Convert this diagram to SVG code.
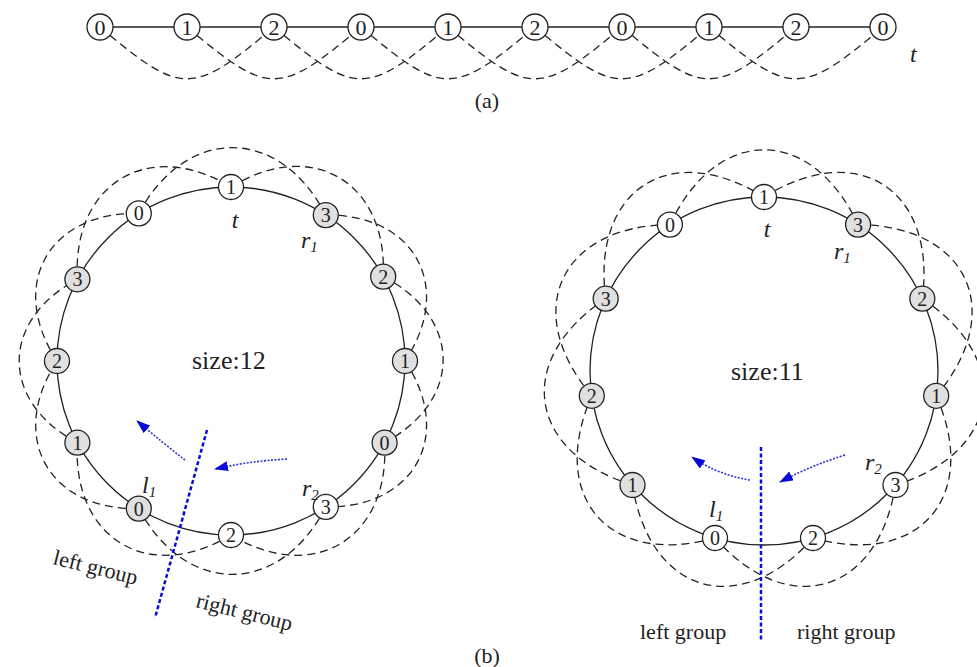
<svg xmlns="http://www.w3.org/2000/svg" width="977" height="667" viewBox="0 0 977 667">
<style>
.solid{fill:none;stroke:#222;stroke-width:1.3}
.dash{fill:none;stroke:#222;stroke-width:1.3;stroke-dasharray:8 5}
.node circle{stroke:#222;stroke-width:1.3}
.w circle{fill:#fff}
.g circle{fill:#e0e0e0}
.node text{font-family:"Liberation Serif","Times New Roman",serif;font-size:20px;text-anchor:middle;fill:#222}
.big text{font-size:22px}
.lbl{font-family:"Liberation Serif","Times New Roman",serif;fill:#222}
.it{font-style:italic;font-size:24px}
.sz{font-size:26px}
.grp{font-size:22px}
.cap{font-size:22px;text-anchor:middle}
.bl{fill:none;stroke:#0a0ad8;stroke-width:2.5;stroke-dasharray:4 2.5}
.arr{fill:none;stroke:#3030d8;stroke-width:1.6;stroke-dasharray:2 1.5}
</style>
<defs>
<marker id="ah" viewBox="0 0 14 10" refX="13" refY="5" markerWidth="14" markerHeight="10" markerUnits="userSpaceOnUse" orient="auto">
<path d="M0,0 L14,5 L0,10 z" fill="#0a0ad8"/>
</marker>
</defs>

<g id="connectors">
<!-- (a) -->
<path class="solid" d="M100,27 H883"/>
<path class="dash" d="M100,27 C182,96 192,96 274,27"/>
<path class="dash" d="M187,27 C269,96 279,96 361,27"/>
<path class="dash" d="M274,27 C356,96 366,96 448,27"/>
<path class="dash" d="M361,27 C443,96 453,96 535,27"/>
<path class="dash" d="M448,27 C530,96 540,96 622,27"/>
<path class="dash" d="M535,27 C617,96 627,96 709,27"/>
<path class="dash" d="M622,27 C704,96 714,96 796,27"/>
<path class="dash" d="M709,27 C791,96 801,96 883,27"/>
<!-- left ring -->
<circle class="solid" cx="231" cy="361" r="174"/>
<path class="dash" d="M231,187 C311.7,137.1 387.8,181.9 383.2,276.6"/>
<path class="dash" d="M325.8,215.1 C414.9,213.9 454.5,286.8 405,361"/>
<path class="dash" d="M383.2,276.6 C462.5,317.4 463.2,400.5 384.6,442.7"/>
<path class="dash" d="M405,361 C454.5,435.2 414.9,508.1 325.8,506.9"/>
<path class="dash" d="M384.6,442.7 C390,538.7 313.2,584.8 231,535"/>
<path class="dash" d="M325.8,506.9 C279.9,596.1 186.4,597 138.8,508.6"/>
<path class="dash" d="M231,535 C148.8,584.8 72,538.7 77.4,442.7"/>
<path class="dash" d="M138.8,508.6 C48.3,510.5 7.4,436.7 57,361"/>
<path class="dash" d="M77.4,442.7 C-0.2,401.9 -0.2,320.2 77.4,279.3"/>
<path class="dash" d="M57,361 C7.4,285.3 48.3,211.5 138.8,213.4"/>
<path class="dash" d="M77.4,279.3 C72,183.3 148.8,137.2 231,187"/>
<path class="dash" d="M138.8,213.4 C186.4,125 279.9,125.9 325.8,215.1"/>
<!-- right ring -->
<circle class="solid" cx="764" cy="371" r="174"/>
<path class="dash" d="M764,197 C857.5,138.5 936.6,189.4 922.3,298.7"/>
<path class="dash" d="M858.1,224.6 C968.3,226 1007.4,311.6 936.2,395.8"/>
<path class="dash" d="M922.3,298.7 C1014.3,359.5 1000.9,452.6 895.5,485"/>
<path class="dash" d="M936.2,395.8 C980.7,496.7 919.1,567.7 813,538"/>
<path class="dash" d="M895.5,485 C878.5,594 788.2,620.5 715,538"/>
<path class="dash" d="M813,538 C739.8,620.5 649.5,594 632.5,485"/>
<path class="dash" d="M715,538 C608.9,567.7 547.3,496.7 591.8,395.8"/>
<path class="dash" d="M632.5,485 C527.1,452.6 513.7,359.5 605.7,298.7"/>
<path class="dash" d="M591.8,395.8 C520.6,311.6 559.7,226 669.9,224.6"/>
<path class="dash" d="M605.7,298.7 C591.4,189.4 670.5,138.5 764,197"/>
<path class="dash" d="M669.9,224.6 C717,124.9 811.1,124.9 858.1,224.6"/>
<!-- blue partition lines and arrows -->
<path class="bl" d="M207,430 L155,618"/>
<path class="arr" d="M185,460 Q163,443 137,421" marker-end="url(#ah)"/>
<path class="arr" d="M287,459 Q250,461 215,469" marker-end="url(#ah)"/>
<path class="bl" d="M761,447 L761,642"/>
<path class="arr" d="M750,480 Q718,475 692,457" marker-end="url(#ah)"/>
<path class="arr" d="M845,455 Q810,466 780,482" marker-end="url(#ah)"/>
</g>

<!-- (a) nodes -->
<g id="a0" class="node w big"><circle cx="100" cy="27" r="13"/><text x="100" y="34.5">0</text></g>
<g id="a1" class="node w big"><circle cx="187" cy="27" r="13"/><text x="187" y="34.5">1</text></g>
<g id="a2" class="node w big"><circle cx="274" cy="27" r="13"/><text x="274" y="34.5">2</text></g>
<g id="a3" class="node w big"><circle cx="361" cy="27" r="13"/><text x="361" y="34.5">0</text></g>
<g id="a4" class="node w big"><circle cx="448" cy="27" r="13"/><text x="448" y="34.5">1</text></g>
<g id="a5" class="node w big"><circle cx="535" cy="27" r="13"/><text x="535" y="34.5">2</text></g>
<g id="a6" class="node w big"><circle cx="622" cy="27" r="13"/><text x="622" y="34.5">0</text></g>
<g id="a7" class="node w big"><circle cx="709" cy="27" r="13"/><text x="709" y="34.5">1</text></g>
<g id="a8" class="node w big"><circle cx="796" cy="27" r="13"/><text x="796" y="34.5">2</text></g>
<g id="a9" class="node w big"><circle cx="883" cy="27" r="13"/><text x="883" y="34.5">0</text></g>

<!-- left ring nodes -->
<g id="L0" class="node w"><circle cx="231" cy="187" r="12.5"/><text x="231" y="194">1</text></g>
<g id="L1" class="node g"><circle cx="325.8" cy="215.1" r="12.5"/><text x="325.8" y="222.1">3</text></g>
<g id="L2" class="node g"><circle cx="383.2" cy="276.6" r="12.5"/><text x="383.2" y="283.6">2</text></g>
<g id="L3" class="node g"><circle cx="405" cy="361" r="12.5"/><text x="405" y="368">1</text></g>
<g id="L4" class="node g"><circle cx="384.6" cy="442.7" r="12.5"/><text x="384.6" y="449.7">0</text></g>
<g id="L5" class="node w"><circle cx="325.8" cy="506.9" r="12.5"/><text x="325.8" y="513.9">3</text></g>
<g id="L6" class="node w"><circle cx="231" cy="535" r="12.5"/><text x="231" y="542">2</text></g>
<g id="L7" class="node g"><circle cx="138.8" cy="508.6" r="12.5"/><text x="138.8" y="515.6">0</text></g>
<g id="L8" class="node g"><circle cx="77.4" cy="442.7" r="12.5"/><text x="77.4" y="449.7">1</text></g>
<g id="L9" class="node g"><circle cx="57" cy="361" r="12.5"/><text x="57" y="368">2</text></g>
<g id="L10" class="node g"><circle cx="77.4" cy="279.3" r="12.5"/><text x="77.4" y="286.3">3</text></g>
<g id="L11" class="node w"><circle cx="138.8" cy="213.4" r="12.5"/><text x="138.8" y="220.4">0</text></g>

<!-- right ring nodes -->
<g id="R0" class="node w"><circle cx="764" cy="197" r="12.5"/><text x="764" y="204">1</text></g>
<g id="R1" class="node g"><circle cx="858.1" cy="224.6" r="12.5"/><text x="858.1" y="231.6">3</text></g>
<g id="R2" class="node g"><circle cx="922.3" cy="298.7" r="12.5"/><text x="922.3" y="305.7">2</text></g>
<g id="R3" class="node g"><circle cx="936.2" cy="395.8" r="12.5"/><text x="936.2" y="402.8">1</text></g>
<g id="R4" class="node w"><circle cx="895.5" cy="485" r="12.5"/><text x="895.5" y="492">3</text></g>
<g id="R5" class="node w"><circle cx="813" cy="538" r="12.5"/><text x="813" y="545">2</text></g>
<g id="R6" class="node w"><circle cx="715" cy="538" r="12.5"/><text x="715" y="545">0</text></g>
<g id="R7" class="node g"><circle cx="632.5" cy="485" r="12.5"/><text x="632.5" y="492">1</text></g>
<g id="R8" class="node g"><circle cx="591.8" cy="395.8" r="12.5"/><text x="591.8" y="402.8">2</text></g>
<g id="R9" class="node g"><circle cx="605.7" cy="298.7" r="12.5"/><text x="605.7" y="305.7">3</text></g>
<g id="R10" class="node w"><circle cx="669.9" cy="224.6" r="12.5"/><text x="669.9" y="231.6">0</text></g>

<!-- labels -->
<g id="labels" class="lbl">
<text class="it" x="910" y="62">t</text>
<text class="cap" x="487" y="108">(a)</text>
<text class="cap" x="487" y="663">(b)</text>

<text class="it" x="235" y="228" text-anchor="middle">t</text>
<text class="it" x="301" y="248">r<tspan font-size="15" dy="4">1</tspan></text>
<text class="sz" x="192" y="369">size:12</text>
<text class="it" x="142" y="493">l<tspan font-size="15" dy="4">1</tspan></text>
<text class="it" x="302" y="496">r<tspan font-size="15" dy="4">2</tspan></text>
<text class="grp" transform="translate(52,564) rotate(14)">left group</text>
<text class="grp" transform="translate(195,607) rotate(14)">right group</text>

<text class="it" x="767" y="237" text-anchor="middle">t</text>
<text class="it" x="834" y="259">r<tspan font-size="15" dy="4">1</tspan></text>
<text class="sz" x="731" y="380">size:11</text>
<text class="it" x="709" y="517">l<tspan font-size="15" dy="4">1</tspan></text>
<text class="it" x="865" y="470">r<tspan font-size="15" dy="4">2</tspan></text>
<text class="grp" x="640" y="639">left group</text>
<text class="grp" x="797" y="639">right group</text>
</g>
</svg>
